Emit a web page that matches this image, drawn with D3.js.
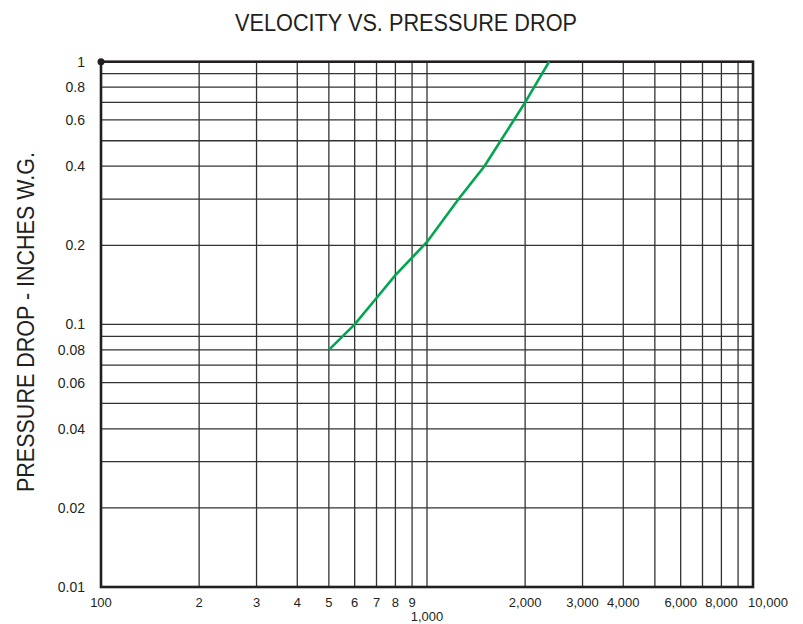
<!DOCTYPE html>
<html><head><meta charset="utf-8">
<script src="https://cdn.jsdelivr.net/npm/d3@7"></script>
<style>body{margin:0;background:#fff}</style>
</head><body>
<svg id="c" width="803" height="624"></svg>
<script>
const velocity = [500, 600, 700, 800, 1000, 1250, 1500, 2000, 2370];
const pressure = [0.08, 0.1, 0.126, 0.154, 0.206, 0.30, 0.40, 0.70, 1.0];
const xTickValues = [100,200,300,400,500,600,700,800,900,1000,2000,3000,4000,6000,8000,10000];
const xTickLabels = ["100","2","3","4","5","6","7","8","9","1,000","2,000","3,000","4,000","6,000","8,000","10,000"];
const yTickValues = [1,0.8,0.6,0.4,0.2,0.1,0.08,0.06,0.04,0.02,0.01];
const yTickLabels = ["1","0.8","0.6","0.4","0.2","0.1","0.08","0.06","0.04","0.02","0.01"];
const xGrid = [200,300,400,500,600,700,800,900,1000,2000,3000,4000,5000,6000,7000,8000,9000];
const yGrid = [0.9,0.8,0.7,0.6,0.5,0.4,0.3,0.2,0.1,0.09,0.08,0.07,0.06,0.05,0.04,0.03,0.02];

const L=101, R=753, T=61.7, B=587;
const svg = d3.select("#c");
const x = d3.scaleLog().domain([100,10000]).range([L,R]);
const y = d3.scaleLog().domain([0.01,1]).range([B,T]);
const font = "'Liberation Sans', Arial, sans-serif";

svg.append("text").attr("x",406).attr("y",31).attr("text-anchor","middle")
  .attr("font-family",font).attr("font-size",23).attr("fill","#231f20")
  .attr("textLength",342).attr("lengthAdjust","spacingAndGlyphs")
  .text("VELOCITY VS. PRESSURE DROP");
svg.append("text").attr("transform","translate(34,322) rotate(-90)").attr("text-anchor","middle")
  .attr("font-family",font).attr("font-size",23).attr("fill","#231f20")
  .attr("textLength",340).attr("lengthAdjust","spacingAndGlyphs")
  .text("PRESSURE DROP - INCHES W.G.");

const g = svg.append("g");
g.selectAll(".vg").data(xGrid).join("line")
  .attr("x1",d=>x(d)).attr("x2",d=>x(d)).attr("y1",T).attr("y2",B)
  .attr("stroke","#333").attr("stroke-width",1.3);
g.selectAll(".hg").data(yGrid).join("line")
  .attr("y1",d=>y(d)).attr("y2",d=>y(d)).attr("x1",L).attr("x2",R)
  .attr("stroke","#333").attr("stroke-width",1.3);

g.append("rect").attr("x",L).attr("y",T).attr("width",R-L).attr("height",B-T)
  .attr("fill","none").attr("stroke","#231f20").attr("stroke-width",2.6);
g.append("circle").attr("cx",L).attr("cy",T).attr("r",3.5).attr("fill","#231f20");

g.selectAll(".xl").data(xTickValues).join("text")
  .attr("x",(d,i)=>x(d)+(xTickLabels[i]==="10,000"?15:0))
  .attr("y",(d,i)=>xTickLabels[i]==="1,000"?621:607)
  .attr("text-anchor","middle").attr("font-family",font).attr("font-size",13).attr("fill","#231f20")
  .text((d,i)=>xTickLabels[i]);
g.selectAll(".yl").data(yTickValues).join("text")
  .attr("x",85).attr("y",d=>y(d)+5)
  .attr("text-anchor","end").attr("font-family",font).attr("font-size",14).attr("fill","#231f20")
  .text((d,i)=>yTickLabels[i]);

const pts = velocity.map((v,i)=>[v,pressure[i]]);
g.append("path").datum(pts)
  .attr("d",d3.line().x(d=>x(d[0])).y(d=>y(d[1])))
  .attr("fill","none").attr("stroke","#00a651").attr("stroke-width",2.6);
</script>
</body></html>
